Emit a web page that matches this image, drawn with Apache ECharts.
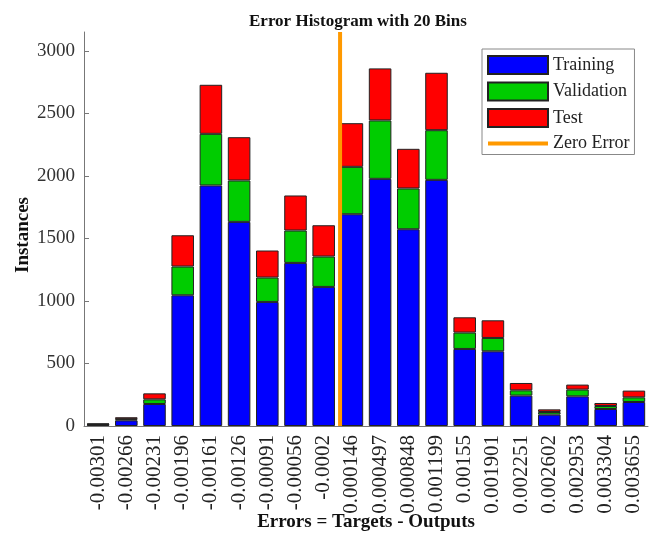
<!DOCTYPE html>
<html>
<head>
<meta charset="utf-8">
<script src="https://cdn.jsdelivr.net/npm/echarts@6/dist/echarts.min.js"></script>
<style>html,body{margin:0;padding:0;background:#fff;}#c{width:657px;height:535px;}</style>
</head>
<body>
<div id="c"></div>
<script>
const categories = ['-0.00301','-0.00266','-0.00231','-0.00196','-0.00161','-0.00126','-0.00091','-0.00056','-0.0002','0.000146','0.000497','0.000848','0.001199','0.00155','0.001901','0.002251','0.002602','0.002953','0.003304','0.003655'];
const training   = [10, 45, 176, 1045, 1923, 1632, 992, 1304, 1112, 1693, 1976, 1573, 1968, 616, 597, 243, 91, 237, 136, 192];
const validation = [4, 10, 37, 230, 413, 331, 195, 259, 243, 379, 467, 326, 397, 131, 107, 42, 21, 54, 24, 37];
const test       = [6, 15, 48, 250, 392, 346, 216, 280, 250, 349, 416, 317, 459, 122, 141, 59, 21, 40, 24, 54];
const yTicks = [0, 500, 1000, 1500, 2000, 2500, 3000];
const firstCenter = -0.00301;
const lastCenter = 0.003655;
const zeroError = 0;

const binW = (lastCenter - firstCenter) / (categories.length - 1);
const font = 'Liberation Serif';
const chart = echarts.init(document.getElementById('c'));
const barStyle = (c) => ({ color: c, borderColor: '#222', borderWidth: 1 });
chart.setOption({
  animation: false,
  backgroundColor: '#fff',
  title: {
    text: 'Error Histogram with 20 Bins',
    left: 244, top: 8,
    textStyle: { fontFamily: font, fontWeight: 'bold', fontSize: 17, color: '#111' }
  },
  legend: {
    orient: 'vertical', left: 482, top: 49,
    padding: [6, 5, 2, 4],
    itemWidth: 60, itemHeight: 18, itemGap: 6.5,
    borderColor: '#888', borderWidth: 1, backgroundColor: '#fff',
    textStyle: { fontFamily: font, fontSize: 18, color: '#222' },
    data: [
      { name: 'Training', icon: 'rect' },
      { name: 'Validation', icon: 'rect' },
      { name: 'Test', icon: 'rect' },
      { name: 'Zero Error', itemStyle: { color: 'rgba(0,0,0,0)', borderWidth: 0, opacity: 0 },
        lineStyle: { color: '#ff9900', width: 4 } }
    ]
  },
  grid: { left: 84, right: 9, top: 32, bottom: 109, outerBoundsMode: 'none', containLabel: false },
  xAxis: [{
    type: 'category', data: categories,
    name: 'Errors = Targets - Outputs', nameLocation: 'middle', nameGap: 87, nameMoveOverlap: false,
    nameTextStyle: { fontFamily: font, fontWeight: 'bold', fontSize: 19, color: '#111' },
    axisLine: { onZero: false, lineStyle: { color: '#777', width: 1 } },
    axisTick: { inside: true, alignWithLabel: true, length: 5, lineStyle: { color: '#111' } },
    axisLabel: { rotate: 90, margin: 9, fontFamily: font, fontSize: 21, color: '#222' }
  }, {
    type: 'value', show: false,
    min: firstCenter - binW / 2, max: lastCenter + binW / 2
  }],
  yAxis: {
    type: 'value', min: 0, max: 3150,
    name: 'Instances', nameLocation: 'middle', nameGap: 51, nameMoveOverlap: false,
    nameTextStyle: { fontFamily: font, fontWeight: 'bold', fontSize: 19, color: '#111', padding: [0, 12, 0, 0] },
    axisLine: { show: true, onZero: false, lineStyle: { color: '#777', width: 1 } },
    axisTick: { show: true, inside: true, length: 5, customValues: yTicks, lineStyle: { color: '#777' } },
    axisLabel: { margin: 9, fontFamily: font, fontSize: 19, color: '#333', customValues: yTicks,
      formatter: (v) => String(v) },
    splitLine: { show: false }
  },
  series: [
    { name: 'Training', type: 'bar', stack: 'all', barCategoryGap: '20%', data: training, itemStyle: barStyle('#0000ff') },
    { name: 'Validation', type: 'bar', stack: 'all', data: validation, itemStyle: barStyle('#00cc00') },
    { name: 'Test', type: 'bar', stack: 'all', data: test, itemStyle: barStyle('#ff0000') },
    { name: 'Zero Error', type: 'line', xAxisIndex: 1, symbol: 'none', z: 5,
      data: [[zeroError, 0], [zeroError, 3150]],
      lineStyle: { color: '#ff9900', width: 4 }, itemStyle: { color: '#ff9900' } }
  ]
});
</script>
</body>
</html>
